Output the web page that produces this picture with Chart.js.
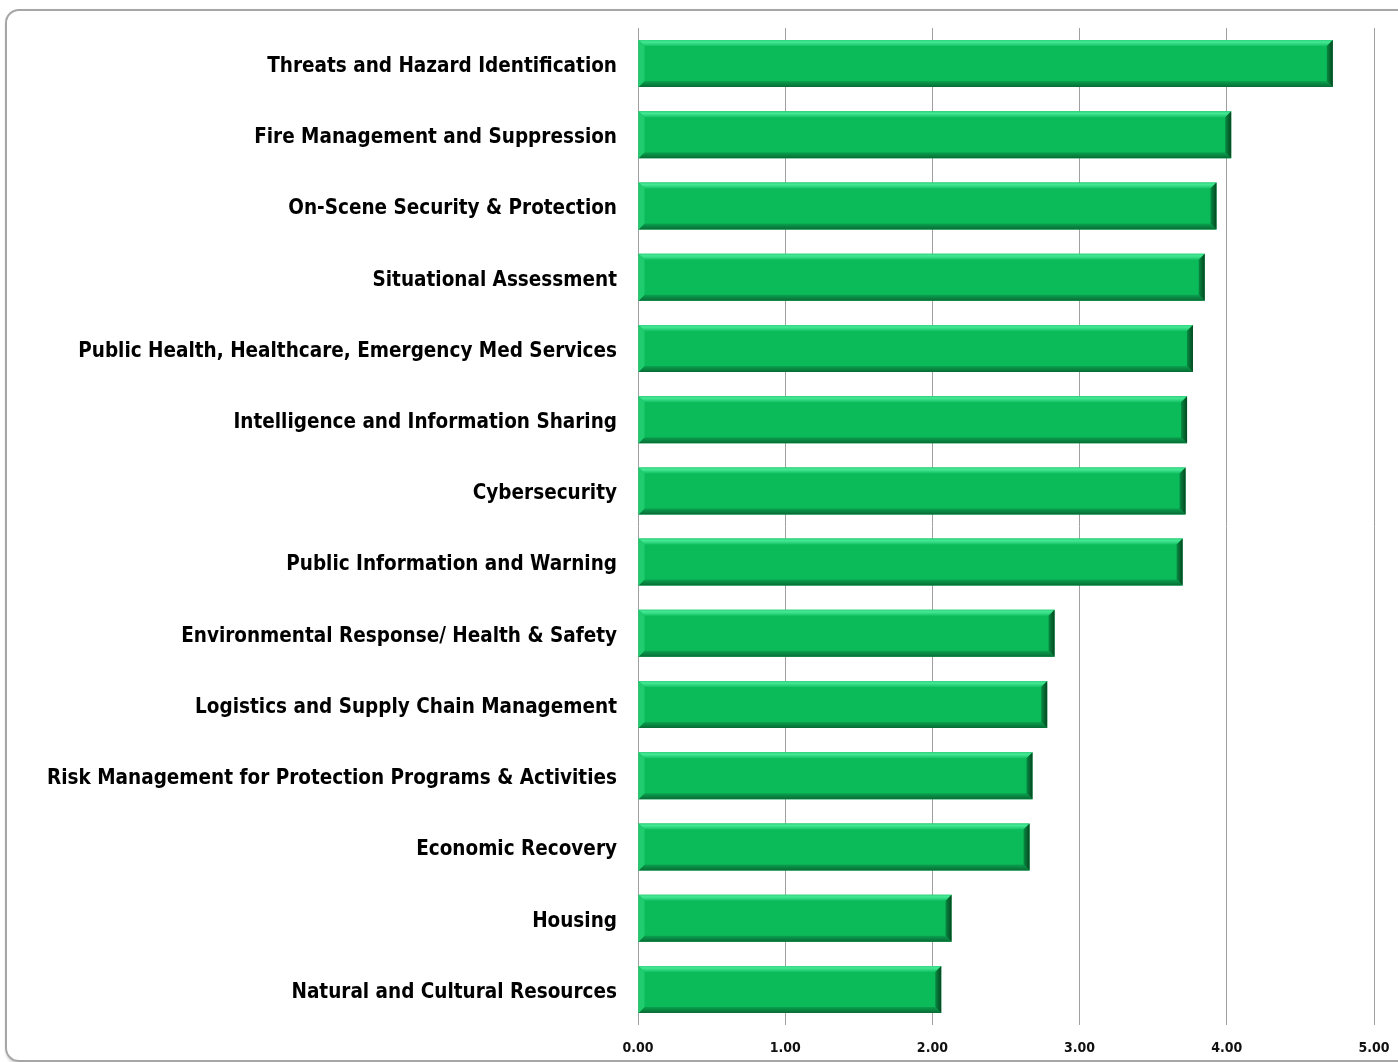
<!DOCTYPE html>
<html>
<head>
<meta charset="utf-8">
<script src="https://cdn.jsdelivr.net/npm/chart.js@4"></script>
<style>
  html, body { margin: 0; padding: 0; background: #fff; }
  #frame {
    position: absolute; left: 5px; top: 9px; width: 1420px; height: 1049px;
    border: 2px solid #a6a6a6; border-radius: 14px; box-shadow: 1px 2px 3px rgba(0,0,0,0.25);
  }
  #wrap { position: absolute; left: 0; top: 0; width: 1398px; height: 1062px; }
</style>
</head>
<body>
<div id="frame"></div>
<div id="wrap"><canvas id="chart" width="1398" height="1062"></canvas></div>
<script>
const categories = [
  'Threats and Hazard Identification',
  'Fire Management and Suppression',
  'On-Scene Security & Protection',
  'Situational Assessment',
  'Public Health, Healthcare, Emergency Med Services',
  'Intelligence and Information Sharing',
  'Cybersecurity',
  'Public Information and Warning',
  'Environmental Response/ Health & Safety',
  'Logistics and Supply Chain Management',
  'Risk Management for Protection Programs & Activities',
  'Economic Recovery',
  'Housing',
  'Natural and Cultural Resources'
];
const scores = [4.72, 4.03, 3.93, 3.85, 3.77, 3.73, 3.72, 3.70, 2.83, 2.78, 2.68, 2.66, 2.13, 2.06];
const tickValues = [0, 1, 2, 3, 4, 5];

// bevel look drawn over each bar, from the bar element geometry
const bevelPlugin = {
  id: 'bevel',
  afterDatasetsDraw(chart) {
    const ctx = chart.ctx;
    const b = 6;
    chart.getDatasetMeta(0).data.forEach((bar) => {
      const { x, y, base, height } = bar.getProps(['x', 'y', 'base', 'height'], true);
      const l = base, r = x, t = y - height / 2, btm = y + height / 2;
      const poly = (pts, color) => {
        ctx.beginPath();
        ctx.moveTo(pts[0][0], pts[0][1]);
        pts.slice(1).forEach((p) => ctx.lineTo(p[0], p[1]));
        ctx.closePath();
        ctx.fillStyle = color;
        ctx.fill();
      };
      ctx.save();
      const topGrad = ctx.createLinearGradient(0, t, 0, t + b);
      topGrad.addColorStop(0, '#2fd57e');
      topGrad.addColorStop(0.35, '#45e894');
      topGrad.addColorStop(1, '#14c264');
      poly([[l, t], [r, t], [r - b, t + b], [l + b, t + b]], topGrad);
      const botGrad = ctx.createLinearGradient(0, btm - b, 0, btm);
      botGrad.addColorStop(0, '#0aa24f');
      botGrad.addColorStop(1, '#076b34');
      poly([[l, btm], [r, btm], [r - b, btm - b], [l + b, btm - b]], botGrad);
      poly([[l, t], [l + b, t + b], [l + b, btm - b], [l, btm]], '#1fcc6e');
      const rGrad = ctx.createLinearGradient(r - b, 0, r, 0);
      rGrad.addColorStop(0, '#088a42');
      rGrad.addColorStop(1, '#04471f');
      poly([[r, t], [r, btm], [r - b, btm - b], [r - b, t + b]], rGrad);
      ctx.restore();
    });
  }
};

new Chart(document.getElementById('chart'), {
  type: 'bar',
  data: {
    labels: categories,
    datasets: [{
      data: scores,
      backgroundColor: '#0bbb59',
      borderWidth: 0,
      barPercentage: 0.66,
      categoryPercentage: 1
    }]
  },
  plugins: [bevelPlugin],
  options: {
    indexAxis: 'y',
    responsive: false,
    animation: false,
    layout: { padding: { top: 28, right: 24, left: 0, bottom: 0 } },
    plugins: { legend: { display: false }, tooltip: { enabled: false } },
    scales: {
      x: {
        min: 0,
        max: 5,
        afterBuildTicks: (scale) => { scale.ticks = tickValues.map((v) => ({ value: v })); },
        afterFit: (scale) => { scale.height = 37; },
        grid: { color: '#a0a0a0', lineWidth: 1, drawTicks: true, tickLength: 15, tickColor: 'rgba(0,0,0,0)' },
        border: { display: false },
        ticks: {
          padding: 0,
          color: '#111',
          font: { family: 'DejaVu Sans Condensed', size: 14, weight: 'bold' },
          callback: (v) => Number(v).toFixed(2)
        }
      },
      y: {
        afterFit: (scale) => { scale.width = 638; },
        grid: { display: true, drawOnChartArea: false, drawTicks: true, tickLength: 21, tickColor: 'rgba(0,0,0,0)' },
        border: { display: false },
        ticks: {
          padding: 0,
          labelOffset: 3,
          color: '#000',
          font: { family: 'DejaVu Sans Condensed', size: 20.5, weight: 'bold' }
        }
      }
    }
  }
});
</script>
</body>
</html>
